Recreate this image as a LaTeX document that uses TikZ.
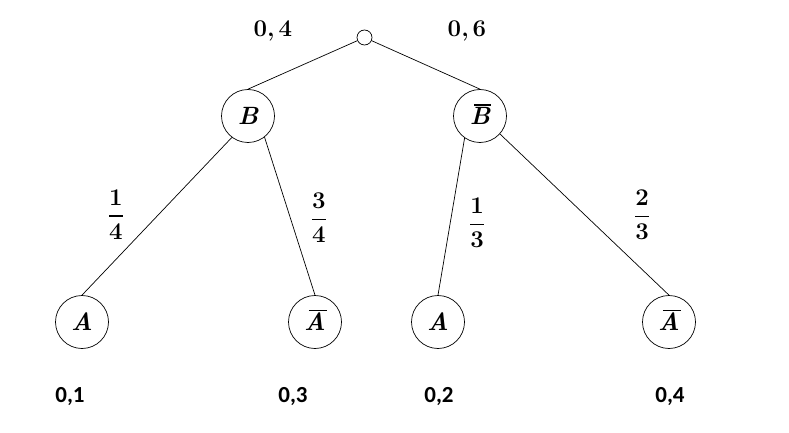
\documentclass[tikz,border=0pt]{standalone}
\usepackage{amsmath}
\usepackage{fontspec}
\newfontfamily\calibri{Carlito}
\newsavebox\ovbox
\newcommand{\ovl}[1]{\sbox\ovbox{#1}\smash{\rlap{\hskip0.22\wd\ovbox\vrule width 0.82\wd\ovbox height \dimexpr\ht\ovbox+3.4pt\relax depth -\dimexpr\ht\ovbox+1.8pt\relax}}\box\ovbox}
\newcommand{\bfrac}[2]{$\genfrac{}{}{1.7pt}{0}{\text{\bfseries #1}}{\text{\bfseries #2}}$}
\begin{document}
\begin{tikzpicture}[x=1pt,y=-1pt,
  ev/.style={draw,circle,minimum size=53pt,inner sep=0pt,line width=0.7pt,font=\fontsize{25}{29}\selectfont\bfseries\itshape},
  rootc/.style={draw,circle,minimum size=15pt,inner sep=0pt,line width=0.7pt},
  lbl/.style={font=\fontsize{24}{28}\selectfont\bfseries,inner sep=0pt},
  prob/.style={font=\fontsize{23}{27}\selectfont\calibri\bfseries,inner sep=0pt,anchor=base},
  edge/.style={draw,line width=0.7pt}]
\useasboundingbox (0,0) rectangle (789,433);
\node[rootc] (r) at (364.5,37.5) {};
\node[ev] (b) at (248,116) {B};
\node[ev] (bb) at (480,116) {\ovl{B}};
\node[ev] (a1) at (82,322) {A};
\node[ev] (na1) at (315,322) {\ovl{A}};
\node[ev] (a2) at (438,322) {A};
\node[ev] (na2) at (669,322) {\ovl{A}};
\path[edge] (r) -- (b.north);
\path[edge] (r) -- (bb.north);
\path[edge] (b.233) -- (a1.north);
\path[edge] (b.308) -- (na1.north);
\path[edge] (bb.235) -- (a2.north);
\path[edge] (bb.318) -- (na2.north);
\node[lbl,anchor=base] (l1) at (273,37) {0,\,4};
\node[lbl,anchor=base] (l2) at (467,37) {0,\,6};
\node[lbl] (f1) at (116,214.5) {\bfrac{1}{4}};
\node[lbl] (f2) at (319,218) {\bfrac{3}{4}};
\node[lbl] (f3) at (477,223) {\bfrac{1}{3}};
\node[lbl] (f4) at (642,215) {\bfrac{2}{3}};
\node[prob] (p1) at (70,402) {0,1};
\node[prob] (p2) at (293,402) {0,3};
\node[prob] (p3) at (439,402) {0,2};
\node[prob] (p4) at (670,402) {0,4};
\end{tikzpicture}
\end{document}
